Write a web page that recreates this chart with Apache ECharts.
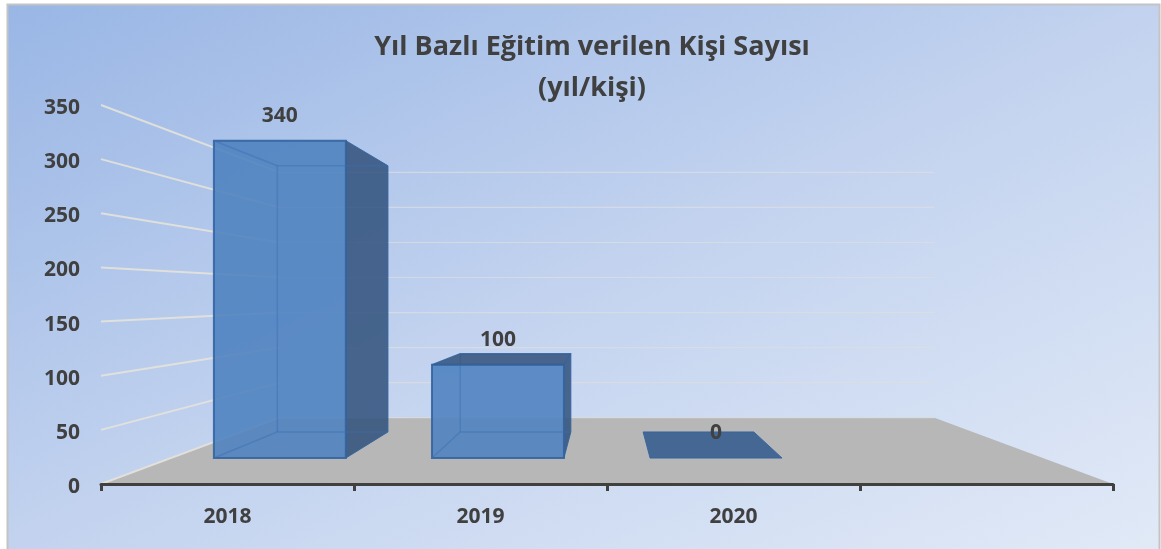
<!DOCTYPE html>
<html><head><meta charset="utf-8">
<style>html,body{margin:0;padding:0;background:#fff}#c{width:1161px;height:549px}</style>
<script src="https://cdn.jsdelivr.net/npm/echarts@6/dist/echarts.min.js"></script>
</head><body><div id="c"></div>
<script>
const categories = ['2018', '2019', '2020', ''];
const values = [340, 100, 0];
const yTicks = [0, 50, 100, 150, 200, 250, 300, 350];
const titleLines = ['Yıl Bazlı Eğitim verilen Kişi Sayısı', '(yıl/kişi)'];

const FONT = '"Open Sans"';
const TEXT = '#404040';
const WALL = 0.647, BAR_FRONT = 0.862, BAR_BACK = 0.723, VP_Y = 296, BAR_RATIO = 0.605;
const FILL = 'rgba(80,131,192,0.9)', DARK = 'rgba(52,84,126,0.88)', EDGE = 'rgba(52,100,160,0.9)', INNER = 'rgba(60,110,175,0.45)';

function persp(sys, x, y, s) {
  const vx = sys.x + sys.width / 2;
  return [vx + s * (x - vx), VP_Y + s * (y - VP_Y)];
}
function poly(points, fill, stroke, lw) {
  return { type: 'polygon', shape: { points }, style: { fill: fill, stroke: stroke || 'none', lineWidth: lw || 1 } };
}
function renderFloor(params, api) {
  const s = params.coordSys, p = api.coord([0, 0])[1];
  const l = s.x, r = s.x + s.width;
  return poly([[l, p], [r, p], persp(s, r, p, WALL), persp(s, l, p, WALL)], '#b7b7b7');
}
function renderGrid(params, api) {
  const s = params.coordSys, y = api.coord([0, api.value(1)])[1];
  const l = s.x, r = s.x + s.width;
  const a = persp(s, l, y, WALL), b = persp(s, r, y, WALL);
  return { type: 'group', children: [
    { type: 'line', shape: { x1: l, y1: y, x2: a[0], y2: a[1] }, style: { stroke: 'rgba(228,226,218,0.9)', lineWidth: 2 } },
    { type: 'line', shape: { x1: a[0], y1: a[1], x2: b[0], y2: b[1] }, style: { stroke: 'rgba(220,222,224,0.75)', lineWidth: 1.2 } }
  ]};
}
function renderBar(params, api) {
  const s = params.coordSys;
  const top = api.coord([api.value(0), api.value(1)]);
  const base = api.coord([api.value(0), 0]);
  const hw = api.size([1, 0])[0] * BAR_RATIO / 2;
  const L = top[0] - hw, R = top[0] + hw;
  const fTL = persp(s, L, top[1], BAR_FRONT), fTR = persp(s, R, top[1], BAR_FRONT);
  const fBL = persp(s, L, base[1], BAR_FRONT), fBR = persp(s, R, base[1], BAR_FRONT);
  const bTL = persp(s, L, top[1], BAR_BACK), bTR = persp(s, R, top[1], BAR_BACK);
  const bBL = persp(s, L, base[1], BAR_BACK), bBR = persp(s, R, base[1], BAR_BACK);
  const kids = [];
  const flat = api.value(1) === 0;
  if (!flat) {
    kids.push(poly([fTR, bTR, bBR, fBR], DARK, EDGE, 1));
    kids.push(poly([fTL, fTR, fBR, fBL], FILL, EDGE, 2));
    kids.push({ type: 'polyline', shape: { points: [bBL, bTL, bTR] }, style: { fill: 'none', stroke: INNER, lineWidth: 1.5 } });
    kids.push({ type: 'polyline', shape: { points: [fBL, bBL, bBR] }, style: { fill: 'none', stroke: INNER, lineWidth: 1.5 } });
    kids.push({ type: 'line', shape: { x1: fTL[0], y1: fTL[1], x2: bTL[0], y2: bTL[1] }, style: { stroke: INNER, lineWidth: 1.5 } });
    if (bTL[1] < fTL[1]) kids.push(poly([fTL, fTR, bTR, bTL], DARK, EDGE, 1));
  } else {
    kids.push(poly([fTL, fTR, bTR, bTL], 'rgba(52,92,142,0.88)', EDGE, 1));
  }
  kids.push({ type: 'text', x: (fTL[0] + fTR[0]) / 2, y: fTL[1] - 25, style: {
    text: String(api.value(1)), font: 'bold 21px ' + FONT, fill: TEXT, align: 'center', verticalAlign: 'middle' } });
  return { type: 'group', children: kids };
}

const chart = echarts.init(document.getElementById('c'), null, { renderer: 'canvas' });
chart.setOption({
  animation: false,
  backgroundColor: '#ffffff',
  graphic: [{
    type: 'rect', z: -10, silent: true,
    shape: { x: 7.5, y: 4.5, width: 1152, height: 560 },
    style: {
      fill: new echarts.graphic.LinearGradient(0.318, -0.3, 0.682, 1.3, [
        { offset: 0, color: '#99b6e5' }, { offset: 0.5, color: '#c3d3ef' }, { offset: 1, color: '#e2eaf7' }
      ]),
      stroke: '#c4c4c4', lineWidth: 2
    }
  }],
  title: {
    text: titleLines.join('\n'), left: 587, top: 22, textAlign: 'center',
    textStyle: { fontFamily: FONT, fontWeight: 'bold', fontSize: 27, color: TEXT, lineHeight: 41 }
  },
  grid: { left: 101, right: 48, top: 105, bottom: 65 },
  xAxis: {
    type: 'category', data: categories, z: 5,
    axisLine: { lineStyle: { color: '#404040', width: 3 } },
    axisTick: { show: true, length: 7, lineStyle: { color: '#404040', width: 3 } },
    axisLabel: { margin: 23, fontFamily: FONT, fontWeight: 'bold', fontSize: 21, color: TEXT }
  },
  yAxis: {
    type: 'value', min: 0, max: 350, interval: 50,
    axisLine: { show: false }, axisTick: { show: false }, splitLine: { show: false },
    axisLabel: { margin: 21, fontFamily: FONT, fontWeight: 'bold', fontSize: 21, color: TEXT, verticalAlign: 'top', lineHeight: 6 }
  },
  series: [
    { type: 'custom', silent: true, clip: false, renderItem: renderFloor, data: [[0, 0]], encode: { x: 0, y: 1 }, z: 1 },
    { type: 'custom', silent: true, clip: false, renderItem: renderGrid, data: yTicks.map(t => [0, t]), encode: { x: 0, y: 1 }, z: 2 },
    { type: 'custom', silent: true, clip: false, renderItem: renderBar, data: values.map((v, i) => [i, v]), encode: { x: 0, y: 1 }, z: 3 }
  ]
});
</script></body></html>
